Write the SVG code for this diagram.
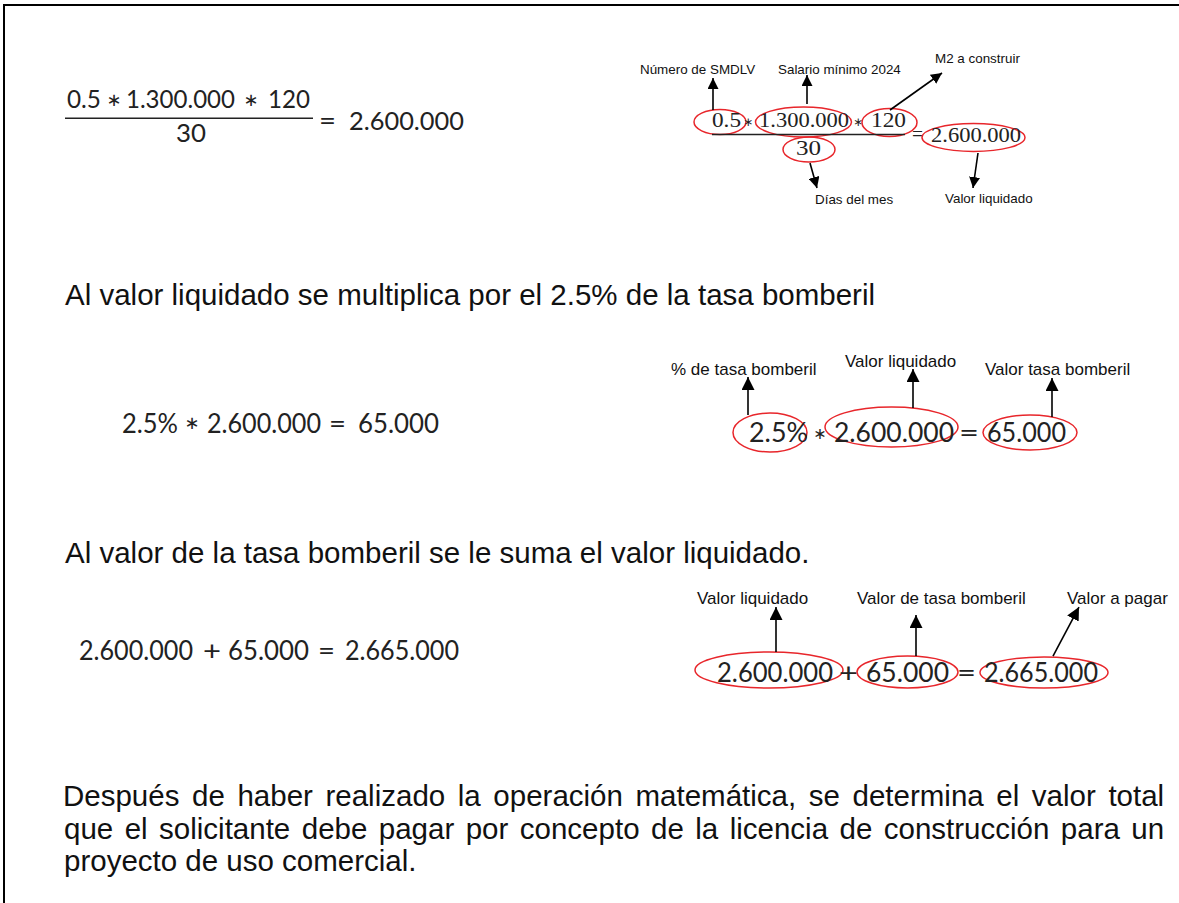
<svg xmlns="http://www.w3.org/2000/svg" width="1179" height="903" viewBox="0 0 1179 903">
<style>
.body{font-family:"Liberation Sans",Arial,sans-serif;font-size:29.5px;fill:#111}
.eq{font-family:Lato,"Liberation Sans",sans-serif;fill:#222}
.eqL{font-size:25px}
.eqM{font-size:26px}
.eqR{font-size:27px}
.ser{font-family:"Liberation Serif","DejaVu Serif",serif;font-size:21.5px;fill:#222}
.op{font-family:"DejaVu Sans",sans-serif;fill:#222;text-anchor:middle}
.lbl{font-family:"Liberation Sans",Arial,sans-serif;fill:#111}
.s13{font-size:13.4px}
.s17{font-size:17px}
.ring{fill:none;stroke:#e8262b;stroke-width:1.5}
.arw{stroke:#000;stroke-width:1.6;fill:none}
.rule{stroke:#222;stroke-width:1.5}
</style>
<defs>
<marker id="ah" viewBox="0 0 10 10" refX="10" refY="5" markerWidth="13" markerHeight="13" markerUnits="userSpaceOnUse" orient="auto"><path d="M0,0 L10,5 L0,10 z" fill="#000"/></marker>
<marker id="ahs" viewBox="0 0 10 10" refX="10" refY="5" markerWidth="11" markerHeight="11" markerUnits="userSpaceOnUse" orient="auto"><path d="M0,0 L10,5 L0,10 z" fill="#000"/></marker>
</defs>
<rect width="1179" height="903" fill="#fff"/>
<path d="M4,903 V5 H1179" fill="none" stroke="#000" stroke-width="2"/>

<!-- Section 1 left formula -->
<g id="formula1">
<text class="eq eqL" x="67" y="108" textLength="34" lengthAdjust="spacingAndGlyphs">0.5</text>
<text class="op" x="114" y="106" font-size="18">∗</text>
<text class="eq eqL" x="126" y="108" textLength="109" lengthAdjust="spacingAndGlyphs">1.300.000</text>
<text class="op" x="251" y="106" font-size="18">∗</text>
<text class="eq eqL" x="268" y="108" textLength="42" lengthAdjust="spacingAndGlyphs">120</text>
<line class="rule" x1="65" y1="118.3" x2="313" y2="118.3"/>
<text class="eq eqL" x="176" y="142" textLength="30" lengthAdjust="spacingAndGlyphs">30</text>
<text class="eq eqL" x="319" y="130" textLength="17" lengthAdjust="spacingAndGlyphs">=</text>
<text class="eq eqL" x="349" y="130" textLength="115" lengthAdjust="spacingAndGlyphs">2.600.000</text>
</g>

<!-- Section 1 annotated formula -->
<g id="n-smdlv">
<ellipse class="ring" cx="720" cy="122" rx="26" ry="12.5"/>
<text class="ser" x="712" y="127" textLength="29" lengthAdjust="spacingAndGlyphs">0.5</text>
<text class="lbl s13" x="640" y="74">Número de SMDLV</text>
</g>
<text class="op" x="748" y="126" font-size="12">∗</text>
<g id="n-salario">
<ellipse class="ring" cx="803.5" cy="122" rx="48" ry="15"/>
<text class="ser" x="759" y="127" textLength="90" lengthAdjust="spacingAndGlyphs">1.300.000</text>
<text class="lbl s13" x="778" y="74">Salario mínimo 2024</text>
</g>
<text class="op" x="858" y="126" font-size="12">∗</text>
<g id="n-m2">
<ellipse class="ring" cx="889.5" cy="122.5" rx="27.5" ry="14"/>
<text class="ser" x="871" y="127" textLength="35" lengthAdjust="spacingAndGlyphs">120</text>
<text class="lbl s13" x="935" y="63">M2 a construir</text>
</g>
<line class="rule" x1="712" y1="134.5" x2="905" y2="134.5" stroke-width="1.3"/>
<g id="n-dias">
<ellipse class="ring" cx="809" cy="149.5" rx="26" ry="12.5"/>
<text class="ser" x="796" y="155" textLength="25" lengthAdjust="spacingAndGlyphs">30</text>
<text class="lbl s13" x="815" y="204">Días del mes</text>
</g>
<text class="ser" x="912" y="141" textLength="11" lengthAdjust="spacingAndGlyphs">=</text>
<g id="n-valor1">
<ellipse class="ring" cx="973.5" cy="137.5" rx="51.5" ry="14"/>
<text class="ser" x="931" y="142" textLength="90" lengthAdjust="spacingAndGlyphs">2.600.000</text>
<text class="lbl s13" x="945" y="203">Valor liquidado</text>
</g>

<!-- Section 2 -->
<text class="body" x="65" y="305">Al valor liquidado se multiplica por el 2.5% de la tasa bomberil</text>
<g id="formula2">
<text class="eq eqM" x="122" y="433" textLength="56" lengthAdjust="spacingAndGlyphs">2.5%</text>
<text class="op" x="192" y="429" font-size="18">∗</text>
<text class="eq eqM" x="207" y="433" textLength="114" lengthAdjust="spacingAndGlyphs">2.600.000</text>
<text class="eq eqM" x="329" y="433" textLength="17" lengthAdjust="spacingAndGlyphs">=</text>
<text class="eq eqM" x="358" y="433" textLength="81" lengthAdjust="spacingAndGlyphs">65.000</text>
</g>
<g id="n-pct">
<ellipse class="ring" cx="770" cy="432.5" rx="37" ry="19.5"/>
<text class="eq eqR" x="749" y="442" textLength="59" lengthAdjust="spacingAndGlyphs">2.5%</text>
<text class="lbl s17" x="671" y="375">% de tasa bomberil</text>
</g>
<text class="op" x="820" y="438.5" font-size="16">∗</text>
<g id="n-valor2">
<ellipse class="ring" cx="891.5" cy="427" rx="66.5" ry="20"/>
<text class="eq eqR" x="834" y="442" textLength="120" lengthAdjust="spacingAndGlyphs">2.600.000</text>
<text class="lbl s17" x="845" y="367">Valor liquidado</text>
</g>
<text class="eq eqR" x="959" y="442" textLength="20" lengthAdjust="spacingAndGlyphs">=</text>
<g id="n-tasa">
<ellipse class="ring" cx="1030" cy="432.5" rx="47" ry="17.5"/>
<text class="eq eqR" x="987" y="442" textLength="79" lengthAdjust="spacingAndGlyphs">65.000</text>
<text class="lbl s17" x="985" y="375">Valor tasa bomberil</text>
</g>

<!-- Section 3 -->
<text class="body" x="65" y="563">Al valor de la tasa bomberil se le suma el valor liquidado.</text>
<g id="formula3">
<text class="eq eqM" x="79" y="660" textLength="114" lengthAdjust="spacingAndGlyphs">2.600.000</text>
<text class="eq eqM" x="203" y="660" textLength="18" lengthAdjust="spacingAndGlyphs">+</text>
<text class="eq eqM" x="228" y="660" textLength="81" lengthAdjust="spacingAndGlyphs">65.000</text>
<text class="eq eqM" x="318" y="660" textLength="17" lengthAdjust="spacingAndGlyphs">=</text>
<text class="eq eqM" x="345" y="660" textLength="114" lengthAdjust="spacingAndGlyphs">2.665.000</text>
</g>
<g id="n-valor3">
<ellipse class="ring" cx="769" cy="670" rx="74" ry="18"/>
<text class="eq eqR" x="717" y="682" textLength="116" lengthAdjust="spacingAndGlyphs">2.600.000</text>
<text class="lbl s17" x="697" y="604">Valor liquidado</text>
</g>
<text class="eq eqR" x="839" y="682" textLength="19" lengthAdjust="spacingAndGlyphs">+</text>
<g id="n-tasa3">
<ellipse class="ring" cx="907.5" cy="672" rx="50.5" ry="16"/>
<text class="eq eqR" x="866" y="682" textLength="83" lengthAdjust="spacingAndGlyphs">65.000</text>
<text class="lbl s17" x="857" y="604">Valor de tasa bomberil</text>
</g>
<text class="eq eqR" x="957" y="682" textLength="19" lengthAdjust="spacingAndGlyphs">=</text>
<g id="n-pagar">
<ellipse class="ring" cx="1044" cy="672.5" rx="64" ry="15.5"/>
<text class="eq eqR" x="984" y="682" textLength="114" lengthAdjust="spacingAndGlyphs">2.665.000</text>
<text class="lbl s17" x="1067" y="604">Valor a pagar</text>
</g>

<!-- Connectors -->
<g id="connectors">
<line class="arw" x1="713" y1="110" x2="713" y2="78" marker-end="url(#ahs)"/>
<line class="arw" x1="807" y1="104" x2="807" y2="75" marker-end="url(#ahs)"/>
<line class="arw" x1="890" y1="110" x2="942" y2="73" marker-end="url(#ahs)"/>
<line class="arw" x1="810" y1="163" x2="817" y2="188" marker-end="url(#ahs)"/>
<line class="arw" x1="978" y1="153" x2="973" y2="188" marker-end="url(#ahs)"/>
<line class="arw" x1="748" y1="415" x2="748" y2="377" marker-end="url(#ah)"/>
<line class="arw" x1="913" y1="408" x2="913" y2="369" marker-end="url(#ah)"/>
<line class="arw" x1="1052" y1="417" x2="1052" y2="378" marker-end="url(#ah)"/>
<line class="arw" x1="776" y1="652" x2="776" y2="607" marker-end="url(#ah)"/>
<line class="arw" x1="916" y1="656" x2="916" y2="615" marker-end="url(#ah)"/>
<line class="arw" x1="1053" y1="656" x2="1079" y2="607" marker-end="url(#ah)"/>
</g>

<!-- Conclusion -->
<text class="body" x="63" y="806" word-spacing="4.4">Después de haber realizado la operación matemática, se determina el valor total</text>
<text class="body" x="64" y="838.5" word-spacing="3.26">que el solicitante debe pagar por concepto de la licencia de construcción para un</text>
<text class="body" x="64" y="871">proyecto de uso comercial.</text>
</svg>
